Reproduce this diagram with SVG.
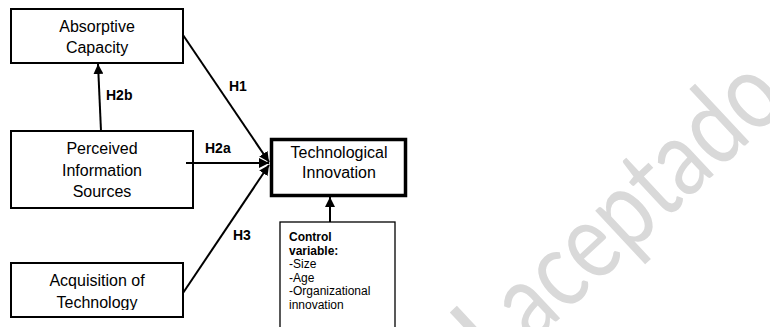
<svg xmlns="http://www.w3.org/2000/svg" width="770" height="327" viewBox="0 0 770 327">
  <style>
    .box { fill: #ffffff; stroke: #000000; stroke-width: 2; }
    .main { fill: #ffffff; stroke: #000000; stroke-width: 3.5; }
    .thin { fill: #ffffff; stroke: #000000; stroke-width: 1.3; }
    .lbl { font-family: "Liberation Sans", Arial, sans-serif; font-size: 16px; fill: #000000; text-anchor: middle; }
    .hyp { font-family: "Liberation Sans", Arial, sans-serif; font-size: 14px; font-weight: bold; fill: #000000; }
    .ctl { font-family: "Liberation Sans", Arial, sans-serif; font-size: 12px; fill: #000000; }
    .edge { stroke: #000000; stroke-width: 2; fill: none; }
    .mark { font-family: Lato, "Open Sans", sans-serif; font-size: 108px; fill: #d9d9d9; }
  </style>
  <defs>
    <marker id="arrow" viewBox="0 0 10 10" refX="10" refY="5" markerWidth="5" markerHeight="5" orient="auto" markerUnits="strokeWidth">
      <path d="M0,0 L10,5 L0,10 Z" fill="#000000"/>
    </marker>
    <clipPath id="acqClip">
      <rect x="11" y="263" width="172" height="47"/>
    </clipPath>
  </defs>

  <rect width="770" height="327" fill="#ffffff"/>

  <!-- watermark, running diagonally up to the right -->
  <g transform="translate(6,5) rotate(-43)">
    <text class="mark" x="107" y="607">l</text>
    <text class="mark" x="154" y="607" textLength="352" lengthAdjust="spacingAndGlyphs">aceptado</text>
  </g>

  <g id="absorptive">
    <rect class="box" x="11" y="9" width="172" height="54"/>
    <text class="lbl" x="97" y="32">Absorptive</text>
    <text class="lbl" x="97" y="53">Capacity</text>
  </g>

  <g id="perceived">
    <rect class="box" x="11" y="131" width="182" height="77"/>
    <text class="lbl" x="102" y="154">Perceived</text>
    <text class="lbl" x="102" y="176">Information</text>
    <text class="lbl" x="102" y="197">Sources</text>
  </g>

  <g id="acquisition">
    <rect class="box" x="11" y="263" width="172" height="54"/>
    <g clip-path="url(#acqClip)">
      <text class="lbl" x="97" y="286">Acquisition of</text>
      <text class="lbl" x="97" y="308">Technology</text>
    </g>
  </g>

  <g id="technological">
    <rect class="main" x="271.5" y="139.5" width="134" height="56"/>
    <text class="lbl" x="339" y="158">Technological</text>
    <text class="lbl" x="339" y="178">Innovation</text>
  </g>

  <g id="control">
    <rect class="thin" x="280" y="222" width="115" height="120"/>
    <text class="ctl" x="289" y="241" font-weight="bold">Control</text>
    <text class="ctl" x="289" y="254.5" font-weight="bold">variable:</text>
    <text class="ctl" x="289" y="268">-Size</text>
    <text class="ctl" x="289" y="281.5">-Age</text>
    <text class="ctl" x="289" y="295">-Organizational</text>
    <text class="ctl" x="289" y="308.5">innovation</text>
  </g>

  <g id="connectors">
    <line class="edge" x1="101" y1="131" x2="98" y2="64" marker-end="url(#arrow)"/>
    <line class="edge" x1="183" y1="35" x2="269" y2="162" marker-end="url(#arrow)"/>
    <line class="edge" x1="186" y1="163" x2="269" y2="163" marker-end="url(#arrow)"/>
    <line class="edge" x1="183" y1="293" x2="269" y2="165" marker-end="url(#arrow)"/>
    <line class="edge" x1="330" y1="222" x2="330" y2="197" marker-end="url(#arrow)"/>
    <text class="hyp" x="229" y="91">H1</text>
    <text class="hyp" x="106" y="100">H2b</text>
    <text class="hyp" x="205" y="153">H2a</text>
    <text class="hyp" x="233" y="240">H3</text>
  </g>
</svg>
